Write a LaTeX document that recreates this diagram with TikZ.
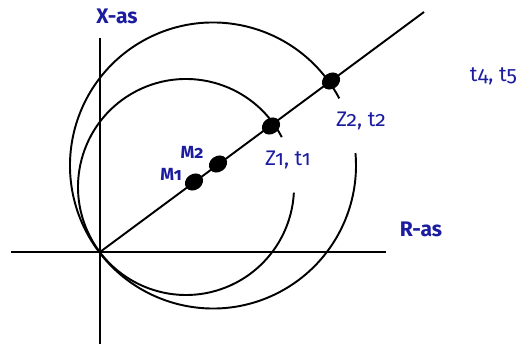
\documentclass[tikz,border=0pt]{standalone}
\usepackage{fontspec}
\setmainfont[Numbers=OldStyle]{Fira Sans}
\usetikzlibrary{shapes.geometric,positioning}
\definecolor{asblue}{RGB}{28,28,160}

\begin{document}
\begin{tikzpicture}[x=0.02cm,y=0.02cm,line width=1.1pt,
        dot/.style={ellipse,fill=black,inner sep=0pt,minimum width=11pt,minimum height=9pt,rotate=36},
        lbl/.style={text=asblue,inner sep=0pt,font=\fontsize{12}{14}\selectfont},
        axlbl/.style={lbl,font=\fontsize{12}{14}\selectfont\bfseries},
        mlbl/.style={text=asblue,inner sep=0pt,font=\fontsize{10}{12}\selectfont\bfseries}]
        \useasboundingbox (0,0) rectangle (520,344);
        % axes
        \coordinate (o) at (100,92);
        \coordinate (xtop) at (100,306);
        \coordinate (xbot) at (100,0);
        \coordinate (rleft) at (11,92);
        \coordinate (rright) at (386,92);
        \coordinate (zend) at (424,332);
        \draw (xbot) -- (xtop);
        \draw (rleft) -- (rright);
        \draw (o) -- (zend);
        % circles
        \draw ([shift={(27.5:108)}]186,157) arc[start angle=27.5,end angle=357,radius=108];
        \draw ([shift={(28:143)}]213,178.5) arc[start angle=28,end angle=365,radius=143];
        \node[dot] (m1) at (194,162) {};
        \node[dot] (m2) at (218,180) {};
        \node[dot] (z1) at (271,218) {};
        \node[dot] (z2) at (331,263) {};
        \node[axlbl] (xas) at (117,328) {X-as};
        \node[axlbl] (ras) at (421,115) {R-as};
        \node[lbl,anchor=east] (t45) at (518,268) {t4, t5};
        \node[lbl] (z2lbl) at (361,223) {Z2, t2};
        \node[lbl] (z1lbl) at (288,184) {Z1, t1};
        \node[mlbl] (m2lbl) at (192,192) {M2};
        \node[mlbl] (m1lbl) at (171,170) {M1};
\end{tikzpicture}
\end{document}
